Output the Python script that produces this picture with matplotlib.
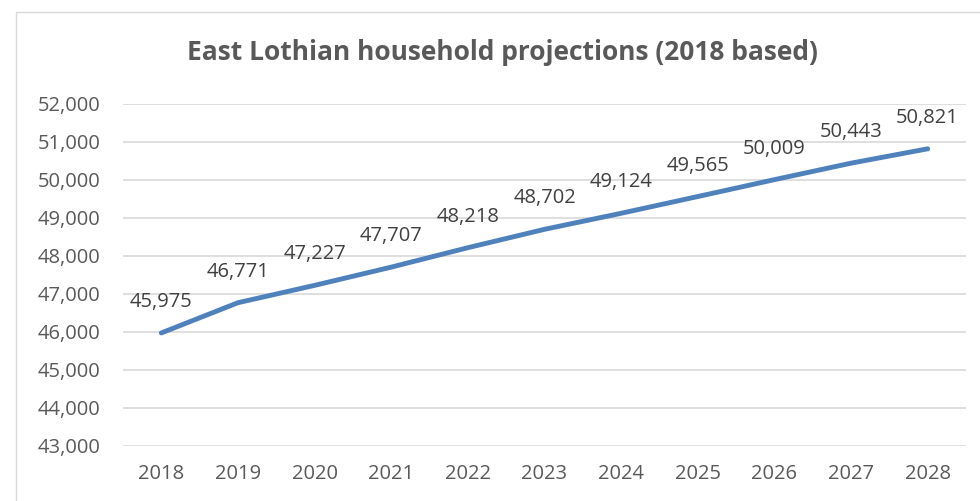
import matplotlib
matplotlib.use("Agg")
import matplotlib.pyplot as plt
from matplotlib.patches import Rectangle
from matplotlib.ticker import FuncFormatter

years = ["2018", "2019", "2020", "2021", "2022", "2023", "2024", "2025", "2026", "2027", "2028"]
households = [45975, 46771, 47227, 47707, 48218, 48702, 49124, 49565, 50009, 50443, 50821]
title = "East Lothian household projections (2018 based)"

W, H = 980, 501
fig = plt.figure(figsize=(W / 100, H / 100), dpi=100)
plt.rcParams['font.family'] = ['Open Sans', 'DejaVu Sans']

fig.patches.append(Rectangle((16 / W, -0.1), 1.1, 1 - 12 / H + 0.1, transform=fig.transFigure,
                             fill=False, edgecolor='#d9d9d9', linewidth=1))

ax = fig.add_axes([123 / W, 1 - 446 / H, (966 - 123) / W, (446 - 104) / H])
x = list(range(len(years)))
ax.plot(x, households, color='#4f81bd', linewidth=3.5, solid_capstyle='round')
ax.set_xlim(-0.5, len(years) - 0.5)
ax.set_ylim(43000, 52000)
ax.set_yticks(range(43000, 52001, 1000))
ax.yaxis.set_major_formatter(FuncFormatter(lambda v, p: f"{int(v):,}"))
ax.set_xticks(x)
ax.set_xticklabels(years)
ax.grid(axis='y', color='#d9d9d9', linewidth=1.2)
ax.set_axisbelow(True)
for s in ax.spines.values():
    s.set_visible(False)
ax.tick_params(length=0, labelsize=14.5, colors='#595959')
ax.tick_params(axis='y', pad=16)
ax.tick_params(axis='x', pad=13)

for xi, v in zip(x, households):
    ax.annotate(f"{v:,}", (xi, v), xytext=(0, 31), textcoords='offset pixels',
                ha='center', va='center', fontsize=14.5, color='#404040')

fig.text(502 / W, 1 - 52 / H, title, ha='center', va='center',
         fontsize=19, fontweight='bold', color='#595959')

fig.savefig("out.png", dpi=100)
